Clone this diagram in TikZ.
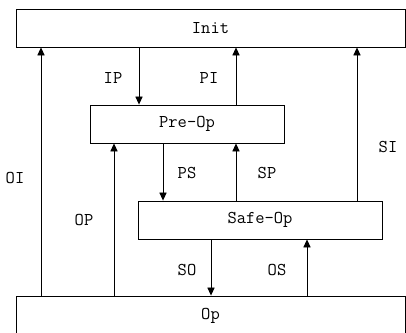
\documentclass[tikz,border=0pt]{standalone}
\usepackage{tikz}
\usetikzlibrary{arrows.meta, positioning}

\begin{document}
\begin{tikzpicture}[
    x=0.025cm, y=-0.025cm,
    state/.style={rectangle, draw, line width=0.6pt, minimum height=0.95cm, inner sep=0pt, font=\ttfamily\fontsize{12.8}{14}\selectfont},
    tag/.style={font=\ttfamily\fontsize{12.8}{14}\selectfont, inner sep=0pt},
    arrow/.style={-{Triangle[length=2mm, width=1.8mm]}, line width=0.6pt}
]
\useasboundingbox (0,0) rectangle (406,333);
\clip (0,0) rectangle (406,333);
\node[state, minimum width=9.725cm] (init) at (210.5,28) {Init};
\node[state, minimum width=4.85cm] (preop) at (187,124) {Pre-Op};
\node[state, minimum width=6.1cm] (safeop) at (260,220) {Safe-Op};
\node[state, minimum width=9.725cm, minimum height=1.2cm] (op) at (210.5,320) {};
\node[tag] (optext) at (210.5,316) {Op};

\draw[arrow] (init.south -| 139,0) -- (preop.north -| 139,0);
\draw[arrow] (preop.north -| 236,0) -- (init.south -| 236,0);
\draw[arrow] (preop.south -| 163,0) -- (safeop.north -| 163,0);
\draw[arrow] (safeop.north -| 236,0) -- (preop.south -| 236,0);
\draw[arrow] (safeop.south -| 211,0) -- (op.north -| 211,0);
\draw[arrow] (op.north -| 307,0) -- (safeop.south -| 307,0);
\draw[arrow] (op.north -| 41,0) -- (init.south -| 41,0);
\draw[arrow] (op.north -| 114,0) -- (preop.south -| 114,0);
\draw[arrow] (safeop.north -| 357,0) -- (init.south -| 357,0);

% transition labels
\node[tag] (ip) at (113,78) {IP};
\node[tag] (pi) at (209,78) {PI};
\node[tag] (ps) at (187,173) {PS};
\node[tag] (sp) at (267,173) {SP};
\node[tag] (so) at (187,270) {SO};
\node[tag] (os) at (277,270) {OS};
\node[tag] (oi) at (15,178) {OI};
\node[tag] (opl) at (84,220) {OP};
\node[tag] (si) at (388,147) {SI};
\end{tikzpicture}
\end{document}
